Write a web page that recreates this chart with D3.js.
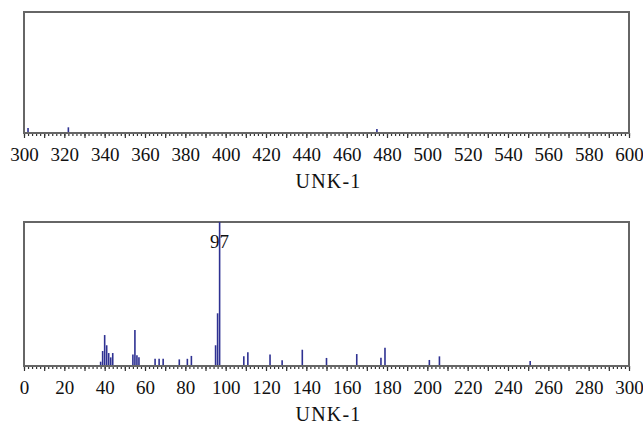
<!DOCTYPE html>
<html>
<head>
<meta charset="utf-8">
<script src="https://cdn.jsdelivr.net/npm/d3@7"></script>
<style>
  body { margin: 0; background: #fff; }
  svg text { font-family: "Liberation Serif", "DejaVu Serif", serif; fill: #111; }
  .tick line { stroke: #333; }
</style>
</head>
<body>
<div class="container"></div>
<script>
const WIDTH = 643;
const HEIGHT = 426;

// upper spectrum, m/z 300-600
var topMz = [302, 322, 475];
var topIntensity = [4.2, 4.7, 3.3];
var topTicks = [300, 320, 340, 360, 380, 400, 420, 440, 460, 480, 500, 520, 540, 560, 580, 600];

// lower spectrum, m/z 0-300
var bottomMz = [38, 39, 40, 41, 42, 43, 44, 54, 55, 56, 57, 65, 67, 69, 77, 81, 83,
                95, 96, 97, 109, 111, 122, 128, 138, 150, 165, 177, 179, 201, 206, 251];
var bottomIntensity = [3, 10.4, 21.5, 14.4, 9, 6, 9, 8, 25, 7.4, 6, 5, 5, 5, 4.6, 5, 7,
                       14.4, 36.6, 100, 6.7, 9.5, 8, 4, 11.3, 5.6, 8.3, 5.8, 12.7, 4.2, 6.7, 3.5];
var bottomTicks = [0, 20, 40, 60, 80, 100, 120, 140, 160, 180, 200, 220, 240, 260, 280, 300];

var basePeak = 97;
var xLabel = 'UNK-1';

var translate = function(x, y) {
    return `translate(${x},${y})`;
};

var drawPanel = function(svg, cfg) {
    let xScale = d3.scaleLinear()
        .domain(cfg.domain)
        .range([24, 629]);

    let yScale = d3.scaleLinear()
        .domain([0, 100])
        .range([cfg.base, cfg.top]);

    let g = svg.append('g');

    // minor ticks every 2
    let minor = d3.range(cfg.domain[0], cfg.domain[1] + 1, 2);
    g.append('g')
        .attr('transform', translate(0, cfg.base))
        .call(d3.axisBottom(xScale).tickValues(minor).tickSize(3).tickFormat(''))
        .call(a => a.select('.domain').remove())
        .call(a => a.selectAll('line').attr('stroke-width', 1.2));

    // major ticks every 10, labels every 20
    let major = d3.range(cfg.domain[0], cfg.domain[1] + 1, 10);
    g.append('g')
        .attr('transform', translate(0, cfg.base))
        .call(d3.axisBottom(xScale).tickValues(major).tickSize(5)
            .tickFormat(d => cfg.ticks.indexOf(d) >= 0 ? d : ''))
        .call(a => a.select('.domain').remove())
        .call(a => a.selectAll('line').attr('stroke-width', 1.2))
        .call(a => a.selectAll('text')
            .attr('y', 0)
            .attr('dy', null)
            .attr('transform', translate(0, 28))
            .style('font-size', '19px'));

    // frame
    g.append('path')
        .attr('d', `M${xScale.range()[0]},${cfg.base}V${cfg.top}H${xScale.range()[1]}V${cfg.base}Z`)
        .attr('fill', 'none')
        .attr('stroke', '#666')
        .attr('stroke-width', 2);

    if (cfg.label) {
        g.append('text')
            .attr('x', xScale(cfg.label))
            .attr('y', cfg.top + 26)
            .attr('text-anchor', 'middle')
            .style('font-size', '19px')
            .text(cfg.label);
    }

    g.selectAll('.peak')
        .data(cfg.mz)
        .enter()
        .append('line')
        .classed('peak', true)
        .attr('x1', d => xScale(d))
        .attr('x2', d => xScale(d))
        .attr('y1', cfg.base - 1)
        .attr('y2', (d, i) => yScale(cfg.intensity[i]))
        .attr('stroke', '#2e3192')
        .attr('stroke-width', 1.6);

    g.append('text')
        .attr('x', (xScale.range()[0] + xScale.range()[1]) / 2 + 2)
        .attr('y', cfg.base + 55)
        .attr('text-anchor', 'middle')
        .style('font-size', '20px')
        .style('letter-spacing', '1.2px')
        .text(xLabel);
};

var fillLayout = function() {
    var svg = d3.select('.container').append('svg')
        .attr('width', WIDTH)
        .attr('height', HEIGHT);

    drawPanel(svg, {
        domain: [300, 600], ticks: topTicks, mz: topMz, intensity: topIntensity,
        top: 12, base: 133, label: null
    });
    drawPanel(svg, {
        domain: [0, 300], ticks: bottomTicks, mz: bottomMz, intensity: bottomIntensity,
        top: 222, base: 366, label: basePeak
    });
};
window.onload = fillLayout;
</script>
</body>
</html>
